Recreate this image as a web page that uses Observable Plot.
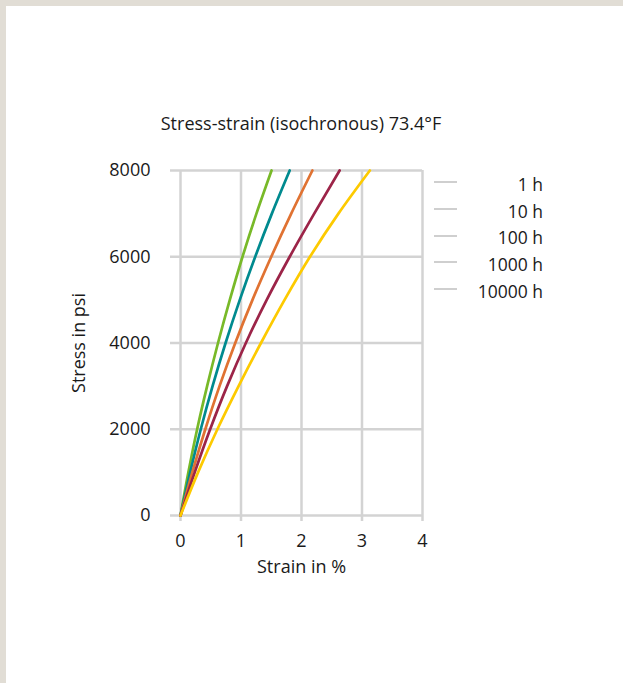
<!DOCTYPE html>
<html><head><meta charset="utf-8">
<script src="https://cdn.jsdelivr.net/npm/d3@7"></script>
<script src="https://cdn.jsdelivr.net/npm/@observablehq/plot@0.6"></script>
<style>
html,body{margin:0;padding:0;background:#fff;}
#page{position:relative;width:623px;height:683px;overflow:hidden;background:#fff;font-family:"Open Sans",sans-serif;color:#1a1a1a;}
#bt{position:absolute;left:0;top:0;width:623px;height:6px;background:#e1ddd5;z-index:3}
#bl{position:absolute;left:0;top:0;width:6px;height:683px;background:#e1ddd5;z-index:3}
#title{position:absolute;left:0;width:602px;top:113px;text-align:center;font-size:18px;line-height:20px;white-space:nowrap}
#chart{position:absolute;left:0;top:0}
.row{position:absolute;left:434px;width:109px;height:26.67px;display:flex;align-items:center;font-size:17.5px;line-height:26.67px}
.sw{width:23px;height:2px;background:#cfcfcf;position:relative;top:-2px}
.lb{flex:1;text-align:right;white-space:nowrap}
</style></head>
<body>
<div id="page">
  <div id="bt"></div><div id="bl"></div>
  <div id="title"></div>
  <div id="chart"></div>
  <div id="legend"></div>
</div>
<script>
// Stress levels (psi) at which strain was read
const stress = [0, 1000, 2000, 3000, 4000, 5000, 6000, 7000, 8000];
// Strain (%) per isochronous curve
const strain1h     = [0, 0.13, 0.275, 0.44, 0.62, 0.815, 1.025, 1.255, 1.505];
const strain10h    = [0, 0.16, 0.335, 0.53, 0.745, 0.98, 1.235, 1.51, 1.805];
const strain100h   = [0, 0.195, 0.41, 0.645, 0.905, 1.19, 1.50, 1.83, 2.18];
const strain1000h  = [0, 0.235, 0.49, 0.77, 1.08, 1.425, 1.805, 2.21, 2.63];
const strain10000h = [0, 0.29, 0.61, 0.96, 1.33, 1.72, 2.14, 2.61, 3.13];
const seriesNames = ["1 h", "10 h", "100 h", "1000 h", "10000 h"];
const seriesColors = ["#78b928", "#008a8f", "#e07232", "#9c2448", "#fdca00"];
const xTicks = [0, 1, 2, 3, 4];
const yTicks = [0, 2000, 4000, 6000, 8000];
const title = "Stress-strain (isochronous) 73.4°F";
const xLabel = "Strain in %";
const yLabel = "Stress in psi";

const strains = [strain1h, strain10h, strain100h, strain1000h, strain10000h];
const data = seriesNames.flatMap((name, k) =>
  stress.map((s, i) => ({series: name, strain: strains[k][i], stress: s})));

const grid = "#d3d3d3";
const chart = Plot.plot({
  width: 623, height: 683,
  marginLeft: 180, marginRight: 201, marginTop: 170, marginBottom: 168,
  style: {fontFamily: "'Open Sans', sans-serif", fontSize: "18px", color: "#1a1a1a", background: "transparent", overflow: "visible"},
  x: {domain: [0, 4]},
  y: {domain: [0, 8000]},
  color: {domain: seriesNames, range: seriesColors},
  marks: [
    Plot.gridX(xTicks, {stroke: grid, strokeOpacity: 1, strokeWidth: 2.5}),
    Plot.gridY(yTicks, {stroke: grid, strokeOpacity: 1, strokeWidth: 2.5}),
    Plot.axisX(xTicks, {tickSize: 6, tickPadding: 13, stroke: grid, strokeWidth: 2.5, fill: "#1a1a1a",
      tickFormat: d => String(d), label: xLabel, labelAnchor: "center", labelOffset: 57, labelArrow: false}),
    Plot.axisY(yTicks, {tickSize: 10, tickPadding: 20, stroke: grid, strokeWidth: 2.5, fill: "#1a1a1a",
      tickFormat: d => String(d), label: yLabel, labelAnchor: "center", labelOffset: 108, labelArrow: false}),
    Plot.line(data, {x: "strain", y: "stress", z: "series", stroke: "series", strokeWidth: 2.7, curve: "monotone-y"})
  ]
});
document.getElementById("chart").appendChild(chart);
document.getElementById("title").textContent = title;

const legend = document.getElementById("legend");
seriesNames.forEach((name, i) => {
  const row = document.createElement("div");
  row.className = "row";
  row.style.top = (171 + i * 26.67) + "px";
  row.innerHTML = '<div class="sw"></div><div class="lb"></div>';
  row.querySelector(".lb").textContent = name;
  legend.appendChild(row);
});
</script>
</body></html>
